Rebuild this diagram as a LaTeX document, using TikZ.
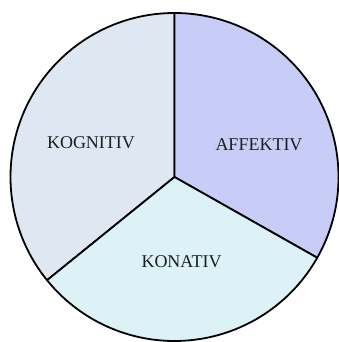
\documentclass[tikz,border=0pt]{standalone}
\usepackage{fontspec}
\setmainfont{Liberation Serif}
\usepackage{xcolor}
\definecolor{kogfill}{HTML}{DFE7F3}
\definecolor{afffill}{HTML}{C7CDF6}
\definecolor{konfill}{HTML}{DCF2F7}
\definecolor{labeltext}{HTML}{1E1E1E}
\newcommand{\pierad}{164}

\begin{document}
\begin{tikzpicture}[x=1pt, y=1pt,
    wedge/.style={draw=black, line width=1.8pt, line join=round},
    pielabel/.style={font=\fontsize{18}{20}\selectfont, text=labeltext, inner sep=0pt}]
        \useasboundingbox (-174.5,-165) rectangle (163.5,177);
        \filldraw[wedge, fill=kogfill] (0,0) -- (90:\pierad) arc (90:219:\pierad) -- cycle;
        \filldraw[wedge, fill=afffill] (0,0) -- (-29.5:\pierad) arc (-29.5:90:\pierad) -- cycle;
        \filldraw[wedge, fill=konfill] (0,0) -- (219:\pierad) arc (219:330.5:\pierad) -- cycle;
        \node[pielabel] (kognitiv) at (-83.5,34) {KOGNITIV};
        \node[pielabel] (affektiv) at (84.5,32) {AFFEKTIV};
        \node[pielabel] (konativ) at (7,-85) {KONATIV};
      \end{tikzpicture}
\end{document}
